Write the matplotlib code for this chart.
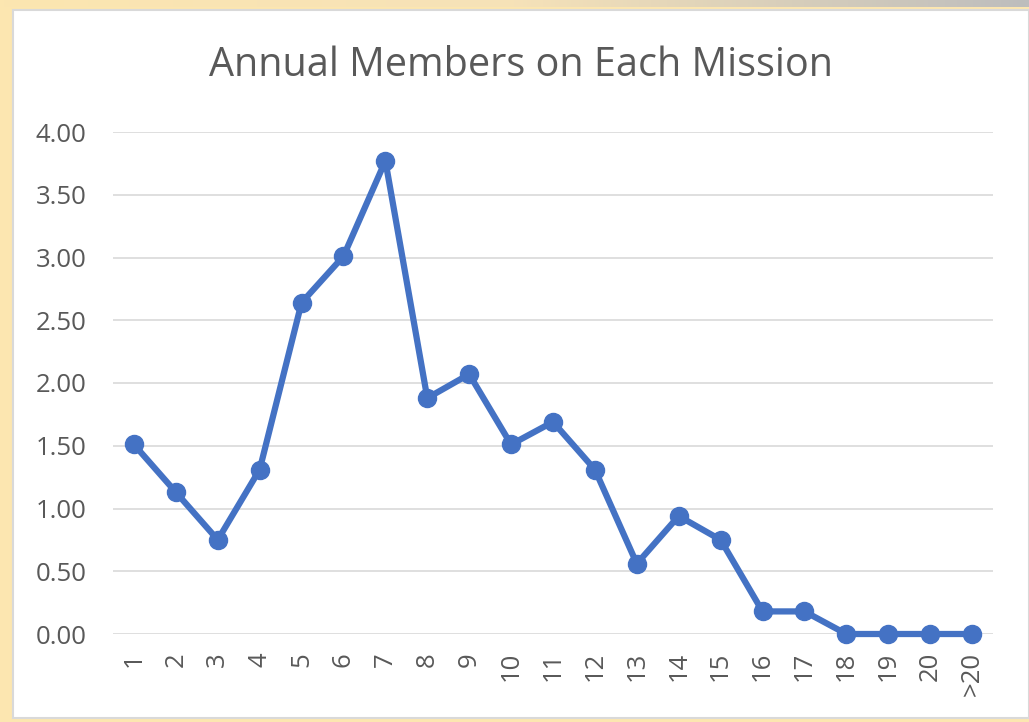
import numpy as np
import matplotlib
matplotlib.use("Agg")
import matplotlib.pyplot as plt
from matplotlib.patches import Rectangle

categories = ["1", "2", "3", "4", "5", "6", "7", "8", "9", "10", "11",
              "12", "13", "14", "15", "16", "17", "18", "19", "20", ">20"]
members = [1.51, 1.13, 0.75, 1.31, 2.64, 3.01, 3.77, 1.88, 2.07, 1.51, 1.69,
           1.31, 0.56, 0.94, 0.75, 0.18, 0.18, 0.0, 0.0, 0.0, 0.0]
y_ticks = [0.0, 0.5, 1.0, 1.5, 2.0, 2.5, 3.0, 3.5, 4.0]

TEXT = "#595959"
LINE = "#4472C4"

def createPlot():
    plt.rcParams['font.family'] = ['Open Sans', 'DejaVu Sans']
    fig = plt.figure(figsize=(10.29, 7.22), dpi=100)
    fig.patch.set_facecolor("#FCE6B0")

    # grey-ish gradient along the top strip
    bg = fig.add_axes([0, 0, 1, 1], zorder=-2)
    grad = np.linspace(0, 1, 256).reshape(1, -1)
    bg.imshow(grad, extent=[0, 1, 0.99, 1], aspect="auto",
              cmap=matplotlib.colors.LinearSegmentedColormap.from_list(
                  "g", ["#FCE6B0", "#F6E2B8", "#BDBDBD"]))
    bg.set_xlim(0, 1)
    bg.set_ylim(0, 1)
    bg.axis("off")
    bg.add_patch(Rectangle((13 / 1029, 4 / 722), 1 - 13 / 1029, 1 - 14 / 722,
                           facecolor="white", edgecolor="#D9D9D9", lw=1.5))

    ax = fig.add_axes([113 / 1029, 88 / 722, 880 / 1029, 502 / 722])
    ax.set_facecolor("none")
    x = np.arange(len(categories))
    ax.plot(x, members, color=LINE, lw=4.5, marker="o", markersize=13,
            solid_capstyle="round", clip_on=False, zorder=3)

    ax.set_xlim(-0.5, len(categories) - 0.5)
    ax.set_ylim(0, 4)
    ax.set_yticks(y_ticks)
    ax.set_yticklabels([f"{v:.2f}" for v in y_ticks])
    ax.set_xticks(x)
    ax.set_xticklabels(categories, rotation=90)
    ax.grid(axis="y", color="#D9D9D9", lw=1.2)
    ax.set_axisbelow(True)
    for s in ax.spines.values():
        s.set_visible(False)
    ax.yaxis.set_tick_params(length=0, colors=TEXT, labelsize=18.5, pad=19)
    ax.xaxis.set_tick_params(length=0, colors=TEXT, labelsize=18.5, pad=13)

    fig.text(521 / 1029, 1 - 66 / 722, "Annual Members on Each Mission",
             ha="center", va="center", fontsize=28.5, color=TEXT)
    fig.savefig("out.png", dpi=100, facecolor=fig.get_facecolor())

def main():
    createPlot()

if __name__ == "__main__":
    main()
